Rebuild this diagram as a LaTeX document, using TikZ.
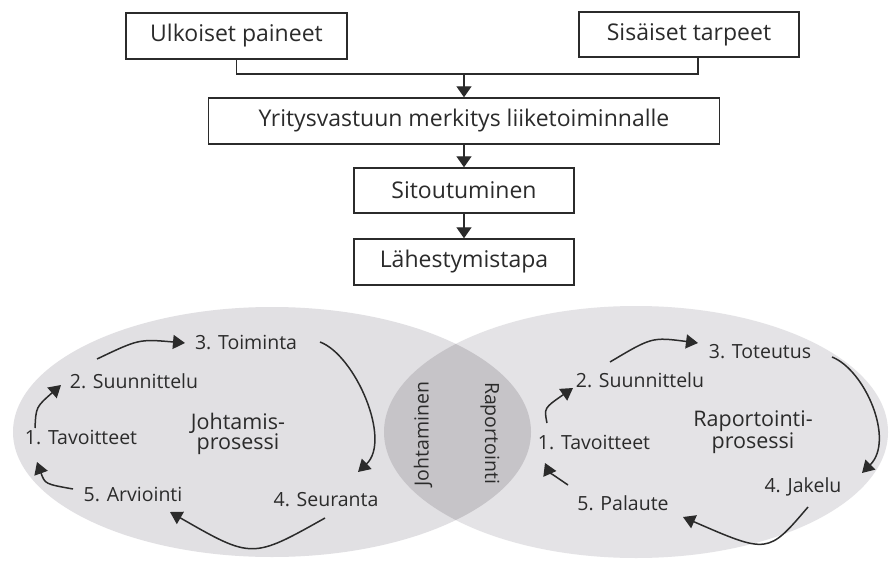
\documentclass[tikz,border=0pt]{standalone}
\usepackage{fontspec}
\setmainfont{Open Sans}
\usetikzlibrary{arrows.meta}
\definecolor{ink}{HTML}{2B2B2B}
\definecolor{ellL}{HTML}{E1E0E3}
\definecolor{ellR}{HTML}{E4E3E6}
\definecolor{lens}{HTML}{C6C4C8}
\tikzset{
  box/.style={draw=ink, line width=1.4pt, fill=white, text=ink, inner sep=0pt,
    font=\fontsize{23}{27}\selectfont},
  conn/.style={draw=ink, line width=1.4pt},
  arr/.style={conn, -{Triangle[length=11pt,width=15pt]}},
  carr/.style={draw=ink, line width=1.5pt, -{Triangle[length=12pt,width=14pt]}},
  steplbl/.style={text=ink, inner sep=0pt, font=\fontsize{19.5}{22}\selectfont},
  proclbl/.style={text=ink, inner sep=0pt, align=center, font=\fontsize{21.5}{19.5}\selectfont},
}
\begin{document}
\begin{tikzpicture}[x=1pt,y=-1pt]
\useasboundingbox (0,0) rectangle (891,561);
\fill[white] (0,0) rectangle (891,561);
% ellipses
\fill[ellL] (272,432) ellipse [x radius=259pt, y radius=125pt];
\fill[ellR] (636,432) ellipse [x radius=252pt, y radius=126pt];
\begin{scope}
  \clip (272,432) ellipse [x radius=259pt, y radius=125pt];
  \fill[lens] (636,432) ellipse [x radius=252pt, y radius=126pt];
\end{scope}
% top flow
\node[box, minimum width=221pt, minimum height=46pt] (ulk) at (236.5,36) {Ulkoiset paineet};
\node[box, minimum width=220pt, minimum height=45pt] (sis) at (689,34.5) {Sisäiset tarpeet};
\node[box, minimum width=511pt, minimum height=46pt] (yri) at (464,121) {Yritysvastuun merkitys liiketoiminnalle};
\node[box, minimum width=220pt, minimum height=45pt] (sit) at (464,190.5) {Sitoutuminen};
\node[box, minimum width=220pt, minimum height=46pt] (lah) at (464,262) {Lähestymistapa};
\coordinate (j) at (464,74);
\coordinate (sisd) at (698,57);
\draw[conn] (ulk.south) |- (j) -| (sisd);
\draw[arr] (j) -- (yri.north);
\draw[arr] (yri.south) -- (sit.north);
\draw[arr] (sit.south) -- (lah.north);
% left labels
\node[steplbl] (t3L) at (246,342) {3. Toiminta};
\node[steplbl] (t2L) at (134,381) {2. Suunnittelu};
\node[proclbl] (jp) at (238,434) {Johtamis-\\prosessi};
\node[steplbl] (t1L) at (81,437) {1. Tavoitteet};
\node[steplbl] (t5L) at (133,494) {5. Arviointi};
\node[steplbl] (t4L) at (326,500) {4. Seuranta};
% right labels
\node[steplbl] (t3R) at (760,352) {3. Toteutus};
\node[steplbl] (t2R) at (640,380) {2. Suunnittelu};
\node[proclbl] (rp) at (753,432) {Raportointi-\\prosessi};
\node[steplbl] (t1R) at (594,442) {1. Tavoitteet};
\node[steplbl] (t4R) at (803,487) {4. Jakelu};
\node[steplbl] (t5R) at (623,503) {5. Palaute};
% lens labels
\node[steplbl, rotate=90] (joh) at (423,434) {Johtaminen};
\node[steplbl, rotate=-90] (rap) at (490,433) {Raportointi};
% left cycle arrows
\coordinate (a12s) at (35,428);  \coordinate (a12e) at (61,385);
\coordinate (a23s) at (97,359);  \coordinate (a23e) at (185,343);
\coordinate (a34s) at (320,342); \coordinate (a34e) at (358,472);
\coordinate (a45s) at (325,518); \coordinate (a45e) at (170,512);
\coordinate (a51s) at (73,489);  \coordinate (a51e) at (37,462);
\draw[carr] (a12s) .. controls (36,407) .. (a12e);
\draw[carr] (a23s) .. controls (139,339) .. (a23e);
\draw[carr] (a34s) .. controls (355,355) and (392,440) .. (a34e);
\draw[carr] (a45s) .. controls (252,559) .. (a45e);
\draw[carr] (a51s) .. controls (45,484) .. (a51e);
% right cycle arrows
\coordinate (b12s) at (547,423); \coordinate (b12e) at (573,388);
\coordinate (b23s) at (610,362); \coordinate (b23e) at (698,343);
\coordinate (b34s) at (832,357); \coordinate (b34e) at (862,473);
\coordinate (b45s) at (808,507); \coordinate (b45e) at (683,517);
\coordinate (b51s) at (568,485); \coordinate (b51e) at (545,463);
\draw[carr] (b12s) .. controls (544,408) .. (b12e);
\draw[carr] (b23s) .. controls (652,337) .. (b23e);
\draw[carr] (b34s) .. controls (865,370) and (895,440) .. (b34e);
\draw[carr] (b45s) .. controls (768,554) .. (b45e);
\draw[carr] (b51s) .. controls (549,472) .. (b51e);
\end{tikzpicture}
\end{document}
